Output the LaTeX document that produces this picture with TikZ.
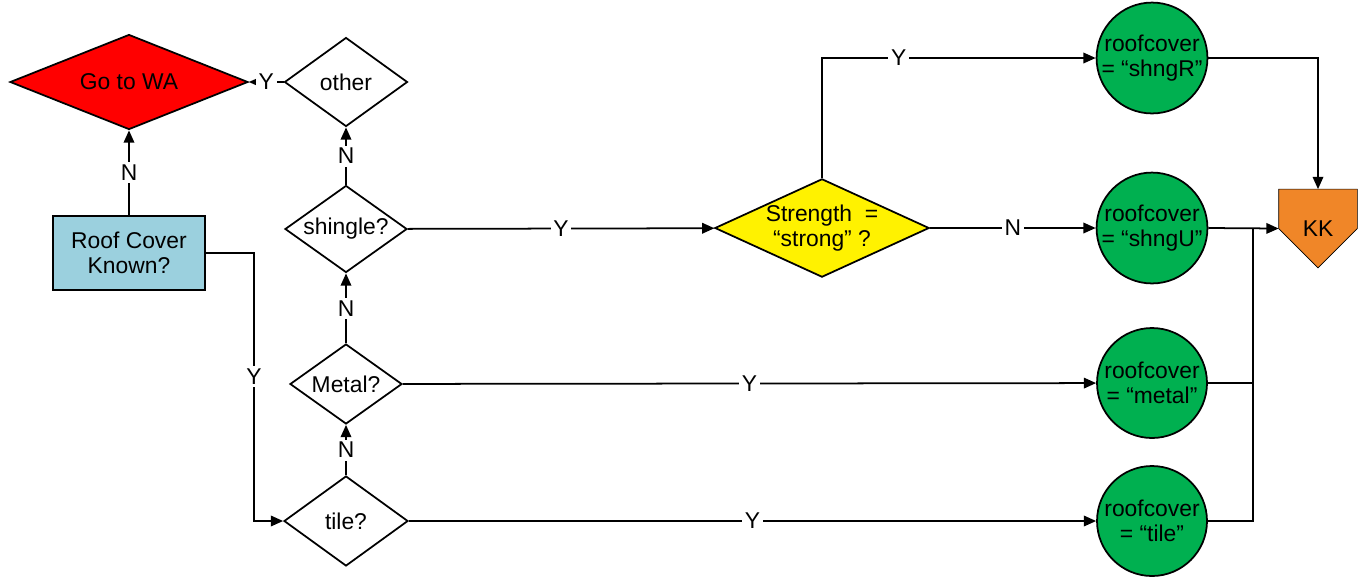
\documentclass[tikz,border=0pt]{standalone}
\usepackage{fontspec}
\setmainfont{Liberation Sans}
\usetikzlibrary{shapes.geometric,arrows.meta,backgrounds}
\definecolor{knownBlue}{RGB}{155,208,222}
\definecolor{coverGreen}{RGB}{0,176,80}
\definecolor{kkOrange}{RGB}{240,134,40}

\begin{document}
\begin{tikzpicture}[x=0.02cm,y=-0.02cm,
    font=\fontsize{13}{14.5}\selectfont,line width=1pt,
    >={Triangle[length=7pt,width=6pt]},
    choice/.style={diamond,draw,fill=white,inner sep=0pt,align=center},
    cover/.style={circle,draw,fill=coverGreen,minimum size=2.2cm,inner sep=0pt,align=center},
    yn/.style={fill=white,inner sep=1.5pt}]
  \useasboundingbox (0,0) rectangle (1368,576);
  % decisions down the left column
  \node[choice,fill=red,shape aspect=2.5,minimum width=4.76cm,minimum height=1.9cm] (wa) at (129,82) {Go to WA};
  \node[draw,fill=knownBlue,minimum width=3.04cm,minimum height=1.48cm,align=center] (known) at (129,253) {Roof Cover\\Known?};
  \node[choice,shape aspect=1.38,minimum width=2.46cm,minimum height=1.78cm] (other) at (346,82) {other};
  \node[choice,shape aspect=1.4,minimum width=2.44cm,minimum height=1.74cm] (shingle) at (346,229) {shingle?};
  \node[choice,shape aspect=1.4,minimum width=2.24cm,minimum height=1.6cm] (metal) at (346,384) {Metal?};
  \node[choice,shape aspect=1.38,minimum width=2.48cm,minimum height=1.8cm] (tile) at (346,521) {tile?};
  \node[choice,fill=yellow,shape aspect=2.18,minimum width=4.22cm,minimum height=1.94cm] (strong) at (822,228) {Strength~~=\\“strong” ?};
  % roofcover values
  \node[cover] (shngR) at (1152,58) {roofcover\\= “shngR”};
  \node[cover] (shngU) at (1152,228) {roofcover\\= “shngU”};
  \node[cover] (cmetal) at (1152,383) {roofcover\\= “metal”};
  \node[cover] (ctile) at (1152,521) {roofcover\\= “tile”};
  \node[minimum width=1.54cm,minimum height=1.54cm,inner sep=0pt] (kk) at (1318,228.5) {KK};
  \begin{scope}[on background layer]
    \draw[fill=kkOrange] (kk.north west) -- (kk.north east) -- (kk.east)
      -- (kk.south) -- (kk.west) -- cycle;
  \end{scope}
  \coordinate (bend) at (254,253);
  \coordinate (join) at (1253,228);

  \draw[->] (known) -- node[yn]{N} (wa);
  \draw[->] (known.east) -- (bend) |- node[yn,pos=0.23]{Y} (tile.west);
  \draw[->] (other) -- node[yn]{Y} (wa);
  \draw[->] (tile) -- node[yn]{N} (metal);
  \draw[->] (metal) -- node[yn]{N} (shingle);
  \draw[->] (shingle) -- node[yn]{N} (other);
  \draw[->] (shingle) -- node[yn]{Y} (strong);
  \draw[->] (strong.north) |- node[yn,pos=0.64]{Y} (shngR.west);
  \draw[->] (strong) -- node[yn]{N} (shngU);
  \draw[->] (metal) -- node[yn]{Y} (cmetal);
  \draw[->] (tile) -- node[yn]{Y} (ctile);
  % everything ends in KK
  \draw[->] (shngR.east) -| (kk.north);
  \draw[->] (shngU.east) -- (kk.west);
  \draw (cmetal.east) -| (join);
  \draw (ctile.east) -| (join);
\end{tikzpicture}
\end{document}
